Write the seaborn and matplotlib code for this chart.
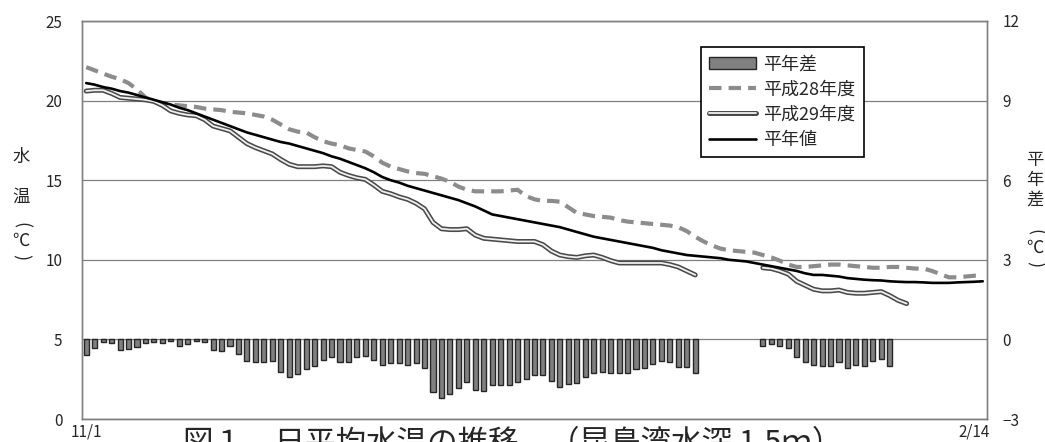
import numpy as np
import pandas as pd
import seaborn as sns
import matplotlib.pyplot as plt
import matplotlib.patheffects as pe
from matplotlib.patches import Patch
from matplotlib.lines import Line2D

# ---- datos (11/1 ~ 2/15, 107 dias) ----
dias = pd.date_range("2017-11-01", periods=107)

heinen = [21.1, 21.0, 20.85, 20.75, 20.6, 20.5, 20.35, 20.2, 20.05, 19.9,
          19.75, 19.55, 19.4, 19.2, 19.0, 18.8, 18.6, 18.4, 18.2, 18.0,
          17.85, 17.7, 17.55, 17.4, 17.3, 17.15, 17.0, 16.85, 16.7, 16.5,
          16.35, 16.15, 15.95, 15.75, 15.5, 15.2, 15.0, 14.85, 14.65, 14.5,
          14.35, 14.2, 14.05, 13.9, 13.75, 13.55, 13.35, 13.1, 12.85, 12.75,
          12.65, 12.55, 12.45, 12.35, 12.25, 12.15, 12.05, 11.9, 11.75, 11.6,
          11.45, 11.35, 11.25, 11.15, 11.05, 10.95, 10.85, 10.75, 10.6, 10.5,
          10.4, 10.3, 10.25, 10.2, 10.15, 10.1, 10.0, 9.95, 9.9, 9.8,
          9.7, 9.6, 9.5, 9.4, 9.3, 9.15, 9.05, 9.05, 9.0, 8.95,
          8.85, 8.8, 8.75, 8.72, 8.7, 8.65, 8.62, 8.6, 8.6, 8.58,
          8.55, 8.55, 8.55, 8.58, 8.6, 8.62, 8.65]

h28 = [22.1, 21.9, 21.7, 21.5, 21.35, 21.1, 20.7, 20.2, 19.9, 19.8,
       19.75, 19.7, 19.65, 19.6, 19.5, 19.45, 19.4, 19.3, 19.25, 19.2,
       19.1, 19.0, 18.8, 18.5, 18.2, 18.05, 18.0, 17.7, 17.45, 17.3,
       17.2, 17.0, 16.9, 16.8, 16.5, 16.1, 15.85, 15.7, 15.55, 15.45,
       15.4, 15.25, 15.1, 14.9, 14.6, 14.4, 14.3, 14.3, 14.3, 14.3,
       14.35, 14.4, 14.0, 13.8, 13.7, 13.7, 13.65, 13.3, 12.95, 12.85,
       12.75, 12.7, 12.65, 12.5, 12.4, 12.35, 12.3, 12.25, 12.2, 12.15,
       12.05, 11.8, 11.45, 11.15, 10.9, 10.7, 10.6, 10.55, 10.5, 10.45,
       10.3, 10.15, 9.95, 9.7, 9.55, 9.55, 9.6, 9.65, 9.7, 9.7,
       9.65, 9.6, 9.55, 9.5, 9.5, 9.55, 9.55, 9.5, 9.45, 9.45,
       9.3, 9.1, 8.9, 8.9, 8.95, 9.0, 9.0]

nan = np.nan
h29 = [20.6, 20.65, 20.65, 20.45, 20.2, 20.15, 20.1, 20.05, 19.95, 19.7,
       19.35, 19.2, 19.1, 19.05, 18.8, 18.4, 18.25, 18.1, 17.7, 17.3,
       17.05, 16.85, 16.65, 16.3, 16.0, 15.85, 15.85, 15.85, 15.9, 15.85,
       15.5, 15.3, 15.15, 15.05, 14.7, 14.3, 14.15, 13.95, 13.8, 13.55,
       13.2, 12.35, 11.95, 11.9, 11.9, 11.95, 11.55, 11.35, 11.3, 11.25,
       11.2, 11.15, 11.15, 11.15, 10.95, 10.55, 10.3, 10.2, 10.15, 10.25,
       10.3, 10.15, 9.95, 9.8, 9.8, 9.8, 9.8, 9.8, 9.8, 9.7,
       9.55, 9.3, 9.05, nan, nan, nan, nan, nan, nan, nan,
       9.5, 9.45, 9.3, 9.1, 8.65, 8.4, 8.15, 8.05, 8.05, 8.1,
       7.95, 7.9, 7.9, 7.95, 8.0, 7.75, 7.45, 7.25, nan, nan,
       nan, nan, nan, nan, nan, nan, nan]

sa = [-0.60, -0.31, -0.10, -0.14, -0.41, -0.35, -0.29, -0.14, -0.08, -0.14,
      -0.05, -0.25, -0.16, -0.05, -0.10, -0.41, -0.44, -0.25, -0.54, -0.82,
      -0.87, -0.84, -0.80, -1.24, -1.42, -1.31, -1.13, -0.99, -0.78, -0.65,
      -0.87, -0.84, -0.65, -0.62, -0.77, -0.95, -0.88, -0.90, -0.97, -0.89,
      -1.07, -1.99, -2.20, -2.05, -1.83, -1.62, -1.90, -1.93, -1.70, -1.70,
      -1.70, -1.60, -1.48, -1.36, -1.36, -1.57, -1.81, -1.68, -1.66, -1.41,
      -1.26, -1.21, -1.27, -1.27, -1.27, -1.12, -1.06, -0.92, -0.82, -0.84,
      -1.03, -1.03, -1.25, nan, nan, nan, nan, nan, nan, nan,
      -0.23, -0.19, -0.23, -0.34, -0.67, -0.87, -0.95, -1.02, -0.99, -0.84,
      -1.06, -0.95, -0.99, -0.80, -0.74, -0.99, nan, nan, nan, nan,
      nan, nan, nan, nan, nan, nan, nan]

df = pd.DataFrame({"dia": np.arange(len(dias)), "平年値": heinen,
                   "平成28年度": h28, "平成29年度": h29, "平年差": sa})

# ---- estilo ----
sns.set_style("white")
plt.rcParams["font.family"] = ["Noto Sans CJK JP", "DejaVu Sans"]
cinza = "#808080"

fig = plt.figure(figsize=(10.45, 4.42), dpi=100)
ax = fig.add_axes([82 / 1045, 1 - 419 / 442, 905 / 1045, 398 / 442])
ax2 = ax.twinx()

# barras del 平年差 (eje derecho)
barras = df.dropna(subset=["平年差"])
sns.barplot(x=barras["dia"], y=barras["平年差"], ax=ax2, native_scale=True,
            width=0.6, color=cinza, saturation=1, edgecolor="#262626",
            linewidth=1)

# lineas de temperatura (eje izquierdo)
sns.lineplot(x=df["dia"], y=df["平成28年度"], ax=ax, color="#8c8c8c", lw=3,
             linestyle=(0, (3, 1.7)), dash_capstyle="butt")
doble = [pe.Stroke(linewidth=3.6, foreground="#4a4a4a"), pe.Normal()]
for seg in [df[df["dia"] <= 72], df[df["dia"] >= 80]]:
    seg = seg.dropna(subset=["平成29年度"])
    sns.lineplot(x=seg["dia"], y=seg["平成29年度"], ax=ax, color="#f0f0f0",
                 lw=1.3, path_effects=doble)
sns.lineplot(x=df["dia"], y=df["平年値"], ax=ax, color="black", lw=1.9)

# ejes
ax.set_xlim(-0.5, len(dias) - 0.5)
ax.set_ylim(0, 25)
ax.set_yticks(range(0, 26, 5))
ax2.set_ylim(-3, 12)
ax2.set_yticks(range(-3, 13, 3))
ax.yaxis.grid(True, color=cinza, lw=0.9)
ax.xaxis.grid(False)
ax2.grid(False)
for a in (ax, ax2):
    a.set_xlabel("")
    a.set_ylabel("")
    for s in a.spines.values():
        s.set_color(cinza)
        s.set_linewidth(1.0)
ax2.xaxis.set_visible(False)

ax.set_xticks(np.arange(14.5, len(dias), 15))
ax.set_xticklabels([])
ax.set_xticks([0, 105], minor=True)
ax.set_xticklabels([f"{d.month}/{d.day}" for d in (dias[0], dias[105])],
                   minor=True)
ax.tick_params(axis="x", which="major", direction="in", length=5,
               color=cinza, width=1)
ax.tick_params(axis="x", which="minor", length=0, pad=3, labelsize=11)
ax.tick_params(axis="y", length=0, pad=14, labelsize=11)
ax2.tick_params(axis="y", length=0, pad=11, labelsize=11)

# leyenda
handles = [
    Patch(facecolor=cinza, edgecolor="#262626", label="平年差"),
    Line2D([], [], color="#8c8c8c", lw=3, linestyle=(0, (3, 1.7)),
           label="平成28年度"),
    Line2D([], [], color="#f0f0f0", lw=1.3, path_effects=doble,
           label="平成29年度"),
    Line2D([], [], color="black", lw=1.9, label="平年値"),
]
leg = ax2.legend(handles=handles, loc="upper left",
                 bbox_to_anchor=(0.674, 0.957), fontsize=13,
                 frameon=True, fancybox=False, framealpha=1,
                 edgecolor="black", handlelength=2.6, handletextpad=0.4,
                 labelspacing=0.4, borderpad=0.45)
leg.get_frame().set_linewidth(1.2)

# rotulos verticales de los ejes: caracteres apilados, parentesis girados
W, H = 1045, 442


def rotulo_vertical(x, chars, parens):
    for ch, y in chars:
        fig.text(x / W, 1 - y / H, ch, ha="center", va="center", fontsize=12.5)
    (y_ab, y_c, y_ce) = parens
    fig.text(x / W, 1 - y_ab / H, "(", ha="center", va="center",
             fontsize=13, rotation=-90)
    fig.text(x / W, 1 - y_c / H, "℃", ha="center", va="center", fontsize=12.5)
    fig.text(x / W, 1 - y_ce / H, ")", ha="center", va="center",
             fontsize=13, rotation=-90)


rotulo_vertical(21, [("水", 157), ("温", 197)], (225, 241, 257))
rotulo_vertical(1035, [("平", 160), ("年", 180), ("差", 200)], (232, 248, 264))

# titulo (cortado por el borde inferior como en la figura original)
fig.text(183 / W, 1 - 428 / H, "図１　日平均水温の推移　（昆島湾水深 1.5ｍ）",
         ha="left", va="top", fontsize=22,
         bbox=dict(facecolor="white", edgecolor="none", pad=1))

fig.savefig("out.png", dpi=100)
